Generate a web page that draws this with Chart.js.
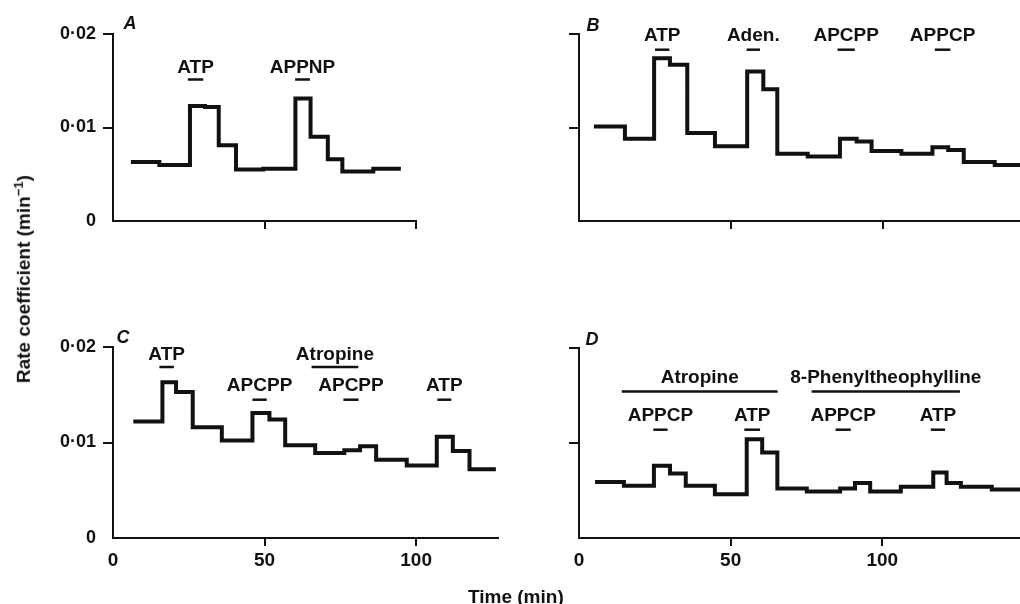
<!DOCTYPE html>
<html>
<head>
<meta charset="utf-8">
<script src="https://cdn.jsdelivr.net/npm/chart.js@4/dist/chart.umd.min.js"></script>
<style>
  html, body { margin: 0; padding: 0; background: #fff; }
  #wrap { position: relative; width: 1020px; height: 604px; overflow: hidden; background: #fff; }
  canvas { position: absolute; }
  .title { position: absolute; font: bold 19px "Liberation Sans", Arial, sans-serif; color: #111; white-space: nowrap; }
</style>
</head>
<body>
<div id="wrap">
  <canvas id="cA" width="510" height="290" style="left:0;top:0"></canvas>
  <canvas id="cB" width="510" height="290" style="left:510px;top:0"></canvas>
  <canvas id="cC" width="510" height="314" style="left:0;top:290px"></canvas>
  <canvas id="cD" width="510" height="314" style="left:510px;top:290px"></canvas>
  <div class="title" id="ytitle">Rate coefficient (min<sup style="font-size:13px">−1</sup>)</div>
  <div class="title" id="xtitle">Time (min)</div>
</div>
<script>
// ---------- DATA ----------
// Panel A: step boundaries (min) and rate coefficients (min^-1)
const aTimes = [5.9, 15.3, 25.4, 30.4, 34.9, 40.6, 49.6, 60.2, 65.2, 70.9, 75.7, 85.9, 95.0];
const aRates = [0.0063, 0.0060, 0.0123, 0.0122, 0.0081, 0.0055, 0.0056, 0.0131, 0.0090, 0.0066, 0.0053, 0.0056];
const aDrugs = ['ATP', 'APPNP'];
const aFrom  = [24.7, 60.1];
const aTo    = [29.8, 65.0];
const aRow   = [0, 0];

// Panel B
const bTimes = [4.9, 15.1, 24.7, 29.9, 35.6, 44.7, 55.3, 60.6, 65.2, 75.2, 85.8, 91.3, 96.2, 106.0, 116.2, 121.4, 126.5, 136.7, 145.0];
const bRates = [0.0101, 0.0088, 0.0174, 0.0167, 0.0094, 0.0080, 0.0160, 0.0141, 0.0072, 0.0069, 0.0088, 0.0085, 0.0075, 0.0072, 0.0079, 0.0076, 0.0063, 0.0060];
const bDrugs = ['ATP', 'Aden.', 'APCPP', 'APPCP'];
const bFrom  = [25.0, 55.1, 85.0, 117.0];
const bTo    = [29.7, 59.5, 90.7, 122.1];
const bRow   = [0, 0, 0, 0];

// Panel C
const cTimes = [6.7, 16.3, 20.8, 26.3, 35.9, 46.0, 51.6, 56.8, 66.7, 76.3, 81.5, 86.8, 96.9, 106.8, 112.1, 117.6, 126.3];
const cRates = [0.0122, 0.0163, 0.0153, 0.0116, 0.0102, 0.0131, 0.0124, 0.0097, 0.0089, 0.0092, 0.0096, 0.0082, 0.0076, 0.0106, 0.0091, 0.0072];
const cDrugs = ['ATP', 'Atropine', 'APCPP', 'APCPP', 'ATP'];
const cFrom  = [15.3, 65.5, 46.0, 76.0, 107.0];
const cTo    = [20.1, 80.9, 50.7, 81.0, 111.6];
const cRow   = [0, 0, 1, 1, 1];

// Panel D
const dTimes = [5.3, 14.8, 24.7, 30.0, 35.2, 44.8, 55.3, 60.4, 65.4, 75.1, 86.1, 91.0, 96.0, 106.1, 116.8, 121.2, 125.9, 136.1, 145.4];
const dRates = [0.0059, 0.0055, 0.0076, 0.0068, 0.0055, 0.0046, 0.0104, 0.0090, 0.0052, 0.0049, 0.0052, 0.0058, 0.0049, 0.0054, 0.0069, 0.0058, 0.0054, 0.0051];
const dDrugs = ['Atropine', '8-Phenyltheophylline', 'APPCP', 'ATP', 'APPCP', 'ATP'];
const dFrom  = [14.1, 76.7, 24.5, 54.5, 84.6, 116.0];
const dTo    = [65.5, 125.6, 29.2, 59.7, 89.6, 120.7];
const dRow   = [0, 0, 1, 1, 1, 1];

const xTickValues = [0, 50, 100];
const yTickValues = [0, 0.01, 0.02];
const yTickText = ['0', '0·01', '0·02'];

// ---------- HELPERS ----------
const FONT = '"Liberation Sans", Arial, Helvetica, sans-serif';
const INK = '#111';

function stepPoints(times, rates) {
  const pts = [];
  for (let i = 0; i < rates.length; i++) pts.push({ x: times[i], y: rates[i] });
  pts.push({ x: times[times.length - 1], y: rates[rates.length - 1] });
  return pts;
}

const annotPlugin = {
  id: 'annot',
  afterDraw(chart, args, o) {
    const { ctx, chartArea } = chart;
    const xs = chart.scales.x;
    ctx.save();
    ctx.fillStyle = INK;
    ctx.strokeStyle = INK;
    ctx.textAlign = 'center';
    ctx.textBaseline = 'alphabetic';
    ctx.font = 'bold 19px ' + FONT;
    o.names.forEach((name, i) => {
      const x0 = xs.getPixelForValue(o.from[i]);
      const x1 = xs.getPixelForValue(o.to[i]);
      const r = o.rows[o.row[i]];
      const yb = chartArea.top + r.bar;
      ctx.lineWidth = 2.5;
      ctx.beginPath();
      ctx.moveTo(x0, yb);
      ctx.lineTo(x1, yb);
      ctx.stroke();
      ctx.fillText(name, (x0 + x1) / 2, chartArea.top + r.text);
    });
    ctx.font = 'italic bold 18px ' + FONT;
    ctx.fillText(o.letter, chartArea.left + o.letterDx, chartArea.top + o.letterDy);
    ctx.restore();
  }
};

function makeChart(id, times, rates, xMax, showLabels, pad, yWidth, xHeight, annot) {
  const tickColor = (c) => (c.tick && c.tick.value === 0) ? 'rgba(0,0,0,0)' : INK;
  return new Chart(document.getElementById(id), {
    type: 'line',
    data: {
      datasets: [{
        data: stepPoints(times, rates),
        stepped: true,
        borderColor: INK,
        borderWidth: 4,
        pointRadius: 0,
        fill: false,
        borderJoinStyle: 'miter',
        borderCapStyle: 'butt'
      }]
    },
    options: {
      responsive: false,
      animation: false,
      devicePixelRatio: 1,
      layout: { padding: pad },
      plugins: { legend: { display: false }, tooltip: { enabled: false }, annot: annot },
      scales: {
        x: {
          type: 'linear', min: 0, max: xMax,
          afterBuildTicks: (s) => { s.ticks = xTickValues.map(v => ({ value: v })); },
          afterFit: (s) => { s.height = xHeight; },
          border: { display: true, color: INK, width: 2 },
          grid: { display: true, drawOnChartArea: false, drawTicks: true, tickLength: 8, color: tickColor, lineWidth: 2 },
          ticks: {
            padding: 3, color: INK, maxRotation: 0, autoSkip: false,
            font: { family: FONT, size: 19, weight: 'bold' },
            callback: (v) => showLabels.x ? String(v) : ''
          }
        },
        y: {
          type: 'linear', min: 0, max: 0.02,
          afterBuildTicks: (s) => { s.ticks = yTickValues.map(v => ({ value: v })); },
          afterFit: (s) => { s.width = yWidth; },
          border: { display: true, color: INK, width: 2 },
          grid: { display: true, drawOnChartArea: false, drawTicks: true, tickLength: 10, color: tickColor, lineWidth: 2 },
          ticks: {
            padding: 7, color: INK, autoSkip: false,
            font: { family: FONT, size: 18, weight: 'bold' },
            callback: (v) => {
              if (!showLabels.y) return '';
              const k = yTickValues.findIndex(t => Math.abs(t - v) < 1e-9);
              return k >= 0 ? yTickText[k] : '';
            }
          }
        }
      }
    },
    plugins: [annotPlugin]
  });
}

// ---------- CHARTS ----------
makeChart('cA', aTimes, aRates, 100, { x: false, y: true },
  { top: 34, right: 94, bottom: 0, left: 0 }, 113, 69,
  { names: aDrugs, from: aFrom, to: aTo, row: aRow,
    rows: [{ text: 38.5, bar: 45.5 }], letter: 'A', letterDx: 17, letterDy: -5 });

makeChart('cB', bTimes, bRates, 145, { x: false, y: false },
  { top: 34, right: 0, bottom: 0, left: 0 }, 69, 69,
  { names: bDrugs, from: bFrom, to: bTo, row: bRow,
    rows: [{ text: 7.4, bar: 15.7 }], letter: 'B', letterDx: 14, letterDy: -3 });

makeChart('cC', cTimes, cRates, 127, { x: true, y: true },
  { top: 57, right: 12, bottom: 0, left: 0 }, 113, 66,
  { names: cDrugs, from: cFrom, to: cTo, row: cRow,
    rows: [{ text: 13.2, bar: 20 }, { text: 44.4, bar: 52.7 }], letter: 'C', letterDx: 10, letterDy: -4 });

makeChart('cD', dTimes, dRates, 145.4, { x: true, y: false },
  { top: 58, right: 0, bottom: 0, left: 0 }, 69, 66,
  { names: dDrugs, from: dFrom, to: dTo, row: dRow,
    rows: [{ text: 35, bar: 43.4 }, { text: 73.4, bar: 81.7 }], letter: 'D', letterDx: 13, letterDy: -3 });

// ---------- AXIS TITLES ----------
const yt = document.getElementById('ytitle');
yt.style.left = (23 - yt.offsetWidth / 2) + 'px';
yt.style.top = (279 - yt.offsetHeight / 2) + 'px';
yt.style.transform = 'rotate(-90deg)';
const xt = document.getElementById('xtitle');
xt.style.left = (516 - xt.offsetWidth / 2) + 'px';
xt.style.top = (597 - xt.offsetHeight / 2) + 'px';
</script>
</body>
</html>
